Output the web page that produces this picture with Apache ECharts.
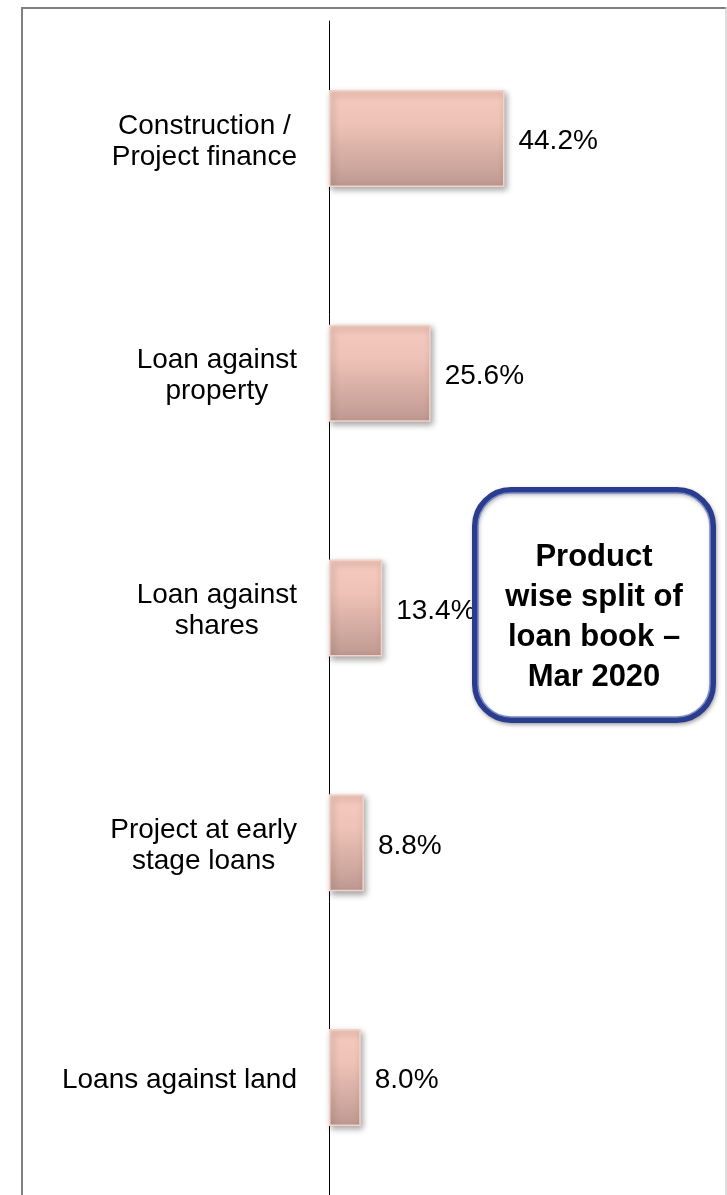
<!DOCTYPE html>
<html>
<head>
<meta charset="utf-8">
<script src="https://cdn.jsdelivr.net/npm/echarts@6/dist/echarts.min.js"></script>
<style>
html,body{margin:0;padding:0;background:#fff;}
#chart{width:727px;height:1195px;}
</style>
</head>
<body>
<div id="chart"></div>
<script>
const categories = ['Construction /\nProject finance', 'Loan against\nproperty', 'Loan against\nshares', 'Project at early\nstage loans', 'Loans against land'];
const values = [44.2, 25.6, 13.4, 8.8, 8.0];
const boxLines = ['Product', 'wise split of', 'loan book –', 'Mar 2020'];

const chart = echarts.init(document.getElementById('chart'), null, {renderer: 'canvas'});
const font = '"Liberation Sans", Arial, Helvetica, sans-serif';

const option = {
  animation: false,
  backgroundColor: '#ffffff',
  grid: {left: 329, top: 21, width: 397, height: 1185, containLabel: false},
  xAxis: {type: 'value', min: 0, max: 100, show: false},
  yAxis: {
    type: 'category', data: categories, inverse: true,
    axisLine: {show: true, lineStyle: {color: '#000', width: 1}},
    axisTick: {show: false},
    splitLine: {show: false},
    axisLabel: {
      color: '#000', fontSize: 28, fontFamily: font, margin: 32, lineHeight: 31, align: 'right',
      padding: [6, 0, 0, 0],
      formatter: v => v.split('\n').map(s => '{c|' + s + '}').join('\n'),
      rich: {c: {align: 'center', color: '#000', fontSize: 28, fontFamily: font, lineHeight: 31}}
    }
  },
  series: [{
    type: 'bar',
    data: values,
    barWidth: 97,
    itemStyle: {
      color: {type: 'linear', x: 0, y: 0, x2: 0, y2: 1, colorStops: [
        {offset: 0, color: '#F6CABE'},
        {offset: 0.35, color: '#EEC2B6'},
        {offset: 1, color: '#BE9991'}
      ]},
      borderColor: '#F4D2C8', borderWidth: 1.5,
      shadowColor: 'rgba(0,0,0,0.35)', shadowBlur: 6, shadowOffsetX: 2, shadowOffsetY: 3
    },
    label: {
      show: true, position: 'right', distance: 14, color: '#000', offset: [0, 3],
      fontSize: 28, fontFamily: font,
      formatter: p => p.value.toFixed(1) + '%'
    }
  }],
  graphic: [
    {type: 'line', shape: {x1: 22, y1: 8, x2: 22, y2: 1195}, style: {stroke: '#808080', lineWidth: 2}, z: 100},
    {type: 'line', shape: {x1: 21, y1: 8, x2: 726, y2: 8}, style: {stroke: '#808080', lineWidth: 2}, z: 100},
    {type: 'line', shape: {x1: 726, y1: 7, x2: 726, y2: 1195}, style: {stroke: '#bcbcbc', lineWidth: 1}, z: 100},
    {type: 'rect', shape: {x: 475, y: 490, width: 238, height: 230, r: 36},
      style: {fill: '#fff', stroke: '#2A3C8E', lineWidth: 6, shadowColor: 'rgba(0,0,0,0.3)', shadowBlur: 4, shadowOffsetX: 1, shadowOffsetY: 2}, z: 100},
    {type: 'rect', shape: {x: 478, y: 493, width: 232, height: 224, r: 33},
      style: {fill: 'none', stroke: '#7C8CC6', lineWidth: 1.5}, z: 101},
    {type: 'text', x: 594, y: 617, z: 102,
      style: {text: boxLines.join('\n'), fill: '#000', font: 'bold 31px ' + font, align: 'center', verticalAlign: 'middle', lineHeight: 40}}
  ]
};
chart.setOption(option);
</script>
</body>
</html>
